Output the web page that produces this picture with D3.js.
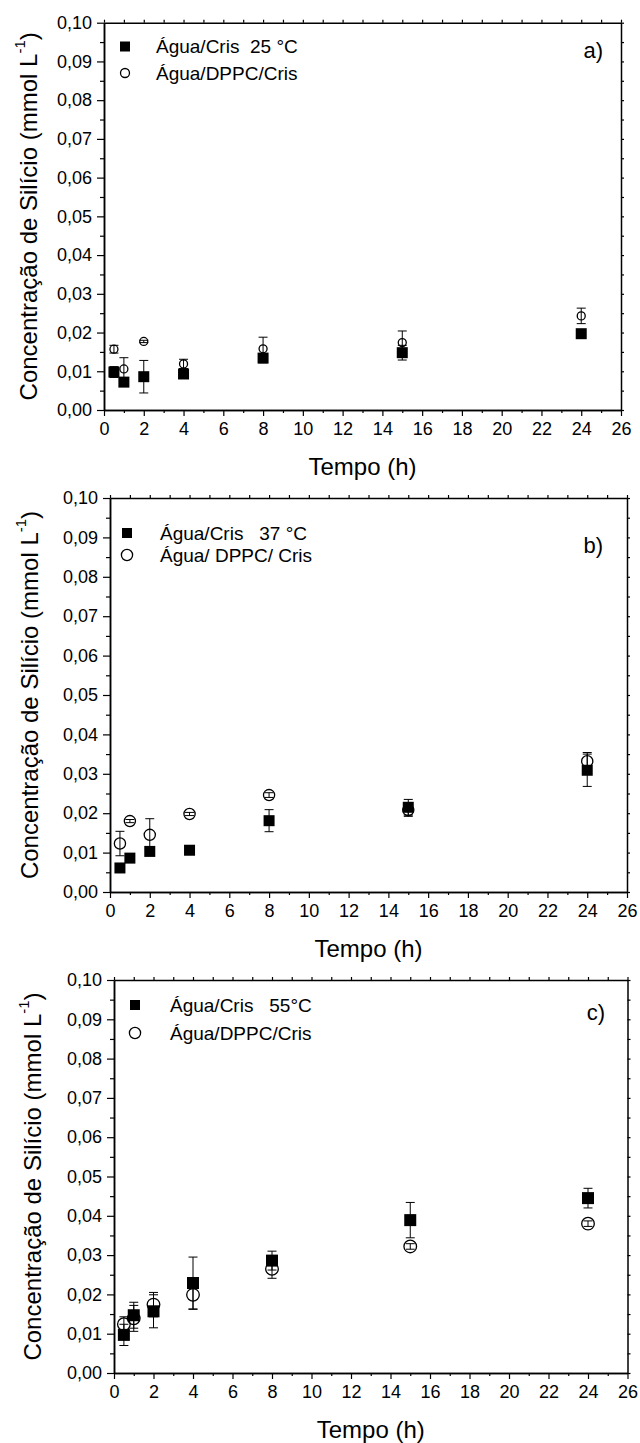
<!DOCTYPE html>
<html><head><meta charset="utf-8">
<script src="https://cdn.jsdelivr.net/npm/d3@7"></script>
<style>
html,body{margin:0;padding:0;background:#fff;}
svg{display:block;}
text{font-family:"Liberation Sans",Arial,sans-serif;fill:#000;}
</style></head>
<body>
<svg id="chart" width="640" height="1443"></svg>
<script>
// ---- data ----
const times = [0.5, 1, 2, 4, 8, 15, 24];
const xTicks = [0,2,4,6,8,10,12,14,16,18,20,22,24,26];
const yTicks = [0,0.01,0.02,0.03,0.04,0.05,0.06,0.07,0.08,0.09,0.10];

const aguaCris25 = [0.0098, 0.0072, 0.0086, 0.0093, 0.0134, 0.0148, 0.0197];
const aguaCris25Err = [0.0014, 0.0007, 0.0042, 0.0006, 0.0012, 0.0019, 0.0008];
const aguaDppc25 = [0.0157, 0.0106, 0.0177, 0.0119, 0.0158, 0.0174, 0.0243];
const aguaDppc25Err = [0.0010, 0.0029, 0.0003, 0.0012, 0.0030, 0.0030, 0.0020];

const aguaCris37 = [0.0061, 0.0086, 0.0103, 0.0106, 0.0181, 0.0215, 0.0309];
const aguaCris37Err = [0.0005, 0.0005, 0.0005, 0.0005, 0.0028, 0.0020, 0.0041];
const aguaDppc37 = [0.0123, 0.0180, 0.0145, 0.0198, 0.0246, 0.0208, 0.0332];
const aguaDppc37Err = [0.0031, 0.0004, 0.0041, 0.0004, 0.0006, 0.0016, 0.0022];

const aguaCris55 = [0.0097, 0.0147, 0.0157, 0.0229, 0.0286, 0.0389, 0.0445];
const aguaCris55Err = [0.0027, 0.0033, 0.0042, 0.0066, 0.0024, 0.0045, 0.0025];
const aguaDppc55 = [0.0124, 0.0139, 0.0174, 0.0199, 0.0265, 0.0322, 0.0380];
const aguaDppc55Err = [0.0019, 0.0033, 0.0031, 0.0037, 0.0024, 0.0007, 0.0007];

const legendSq = ["Água/Cris  25 °C", "Água/Cris   37 °C", "Água/Cris   55°C"];
const legendCi = ["Água/DPPC/Cris", "Água/ DPPC/ Cris", "Água/DPPC/Cris"];
const panelTags = ["a)", "b)", "c)"];

// ---- layout ----
const panels = [
  {sq: aguaCris25, sqE: aguaCris25Err, ci: aguaDppc25, ciE: aguaDppc25Err,
   left:104, right:621, top:22.7, bottom:410, r:4, s:11, lr:4.5, ytx:28,
   legX:125, legTx:156, legY1:46.5, legY2:73, tagX:603, tagY:50},
  {sq: aguaCris37, sqE: aguaCris37Err, ci: aguaDppc37, ciE: aguaDppc37Err,
   left:110, right:627, top:498, bottom:892, r:5.6, s:11, lr:5.6, ytx:29,
   legX:127, legTx:160, legY1:533, legY2:555, tagX:603, tagY:545},
  {sq: aguaCris55, sqE: aguaCris55Err, ci: aguaDppc55, ciE: aguaDppc55Err,
   left:114, right:627.5, top:980, bottom:1373, r:6.3, s:12, lr:5.6, ytx:32,
   legX:135, legTx:170, legY1:1005, legY2:1033, tagX:605, tagY:1012}
];

const svg = d3.select("#chart");
const fmt = d => d.toFixed(2).replace(".", ",");

panels.forEach((p, i) => {
  const x = d3.scaleLinear().domain([0, 26]).range([p.left, p.right]);
  const y = d3.scaleLinear().domain([0, 0.10]).range([p.bottom, p.top]);
  const g = svg.append("g");

  const minorX = d3.range(1, 26, 2);
  const minorY = d3.range(0.005, 0.1, 0.01);

  // bottom axis
  g.append("g").attr("transform", `translate(0,${p.bottom})`)
    .call(d3.axisBottom(x).tickValues(xTicks).tickSize(6).tickSizeOuter(0).tickPadding(6).tickFormat(d3.format("d")));
  g.append("g").attr("transform", `translate(0,${p.bottom})`)
    .call(d3.axisBottom(x).tickValues(minorX).tickSize(3).tickSizeOuter(0).tickFormat(""));
  // left axis
  g.append("g").attr("transform", `translate(${p.left},0)`)
    .call(d3.axisLeft(y).tickValues(yTicks).tickSize(7).tickSizeOuter(0).tickPadding(5).tickFormat(fmt));
  g.append("g").attr("transform", `translate(${p.left},0)`)
    .call(d3.axisLeft(y).tickValues(minorY).tickSize(4).tickSizeOuter(0).tickFormat(""));
  // top axis
  g.append("g").attr("transform", `translate(0,${p.top})`)
    .call(d3.axisTop(x).tickValues(d3.range(0, 27, 1)).tickSize(3).tickSizeOuter(0).tickFormat(""));
  // right axis
  g.append("g").attr("transform", `translate(${p.right},0)`)
    .call(d3.axisRight(y).tickValues(d3.range(0, 0.1001, 0.005)).tickSize(3).tickSizeOuter(0).tickFormat(""));

  g.selectAll(".domain").attr("stroke", "#000").attr("stroke-width", 1.5);
  g.selectAll(".tick line").attr("stroke", "#000").attr("stroke-width", 1.2);
  g.selectAll(".tick text").attr("font-size", 18).attr("font-family", '"Liberation Sans",Arial,sans-serif').attr("fill", "#000");

  // titles
  g.append("text").attr("x", (p.left + p.right) / 2).attr("y", p.bottom + 65)
    .attr("text-anchor", "middle").attr("font-size", 24).text("Tempo (h)");
  const yt = g.append("text")
    .attr("transform", `translate(${p.ytx},${(p.top + p.bottom) / 2}) rotate(-90)`)
    .attr("text-anchor", "middle").attr("dominant-baseline", "central").attr("font-size", 24);
  yt.append("tspan").text("Concentração de Silício (mmol L");
  yt.append("tspan").attr("dy", -9).attr("font-size", 15).text("-1");
  yt.append("tspan").attr("dy", 9).text(")");

  // error bars
  const drawErr = (vals, errs) => {
    const eg = g.append("g").attr("stroke", "#000").attr("stroke-width", 1);
    times.forEach((t, k) => {
      const cx = x(t), hi = y(vals[k] + errs[k]), lo = y(vals[k] - errs[k]);
      eg.append("line").attr("x1", cx).attr("x2", cx).attr("y1", hi).attr("y2", lo);
      eg.append("line").attr("x1", cx - 4.5).attr("x2", cx + 4.5).attr("y1", hi).attr("y2", hi);
      eg.append("line").attr("x1", cx - 4.5).attr("x2", cx + 4.5).attr("y1", lo).attr("y2", lo);
    });
  };
  drawErr(p.sq, p.sqE);
  drawErr(p.ci, p.ciE);

  // markers
  g.selectAll(".sq").data(times).enter().append("rect")
    .attr("x", (t) => x(t) - p.s / 2).attr("y", (t, k) => y(p.sq[k]) - p.s / 2)
    .attr("width", p.s).attr("height", p.s).attr("fill", "#000");
  g.selectAll(".ci").data(times).enter().append("circle")
    .attr("cx", (t) => x(t)).attr("cy", (t, k) => y(p.ci[k])).attr("r", p.r)
    .attr("fill", "none").attr("stroke", "#000").attr("stroke-width", 1.3);

  // legend
  g.append("rect").attr("x", p.legX - 5).attr("y", p.legY1 - 5).attr("width", 10).attr("height", 10).attr("fill", "#000");
  g.append("circle").attr("cx", p.legX).attr("cy", p.legY2).attr("r", p.lr).attr("fill", "none").attr("stroke", "#000").attr("stroke-width", 1.3);
  g.append("text").attr("x", p.legTx).attr("y", p.legY1 + 6.5).attr("font-size", 19)
    .attr("xml:space", "preserve").style("white-space", "pre").text(legendSq[i]);
  g.append("text").attr("x", p.legTx).attr("y", p.legY2 + 6.5).attr("font-size", 19)
    .attr("xml:space", "preserve").style("white-space", "pre").text(legendCi[i]);
  g.append("text").attr("x", p.tagX).attr("y", p.tagY + 8).attr("text-anchor", "end")
    .attr("font-size", 22).text(panelTags[i]);
});
</script>
</body></html>
